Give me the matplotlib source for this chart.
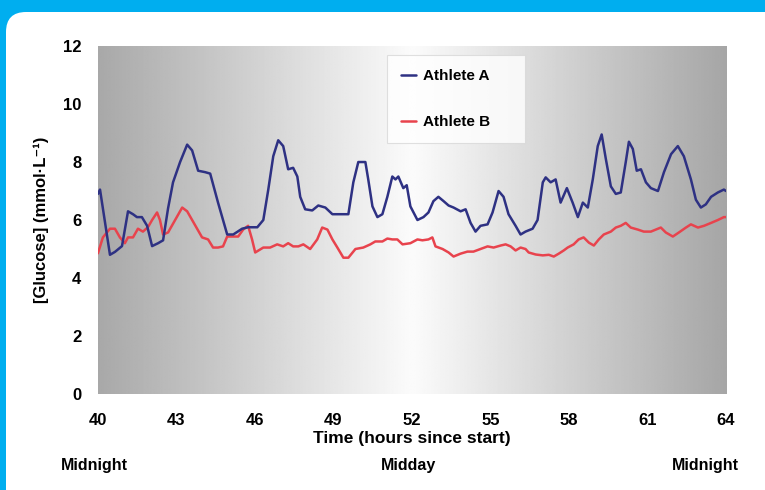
import numpy as np
import matplotlib
matplotlib.use('Agg')
import matplotlib.pyplot as plt
from matplotlib.patches import FancyBboxPatch

plt.rcParams['font.family'] = ['Liberation Sans', 'DejaVu Sans']
plt.rcParams['font.weight'] = 'bold'

# values
hours_a = [40.0, 40.08, 40.46, 40.65, 40.92, 41.15, 41.34, 41.49, 41.68, 41.88,
           42.07, 42.30, 42.49, 42.68, 42.87, 43.14, 43.41, 43.60, 43.83, 44.10,
           44.29, 44.59, 44.94, 45.17, 45.51, 45.74, 46.09, 46.32, 46.51, 46.70,
           46.89, 47.08, 47.27, 47.46, 47.62, 47.73, 47.92, 48.19, 48.42, 48.69,
           48.96, 49.19, 49.57, 49.76, 49.95, 50.22, 50.33, 50.49, 50.68, 50.87,
           51.06, 51.25, 51.37, 51.48, 51.67, 51.80, 51.94, 52.21, 52.44, 52.63,
           52.82, 53.01, 53.21, 53.40, 53.59, 53.86, 54.05, 54.24, 54.43, 54.62,
           54.89, 55.08, 55.31, 55.50, 55.69, 55.96, 56.15, 56.34, 56.61, 56.80,
           57.00, 57.11, 57.30, 57.49, 57.68, 57.92, 58.14, 58.34, 58.53, 58.72,
           58.91, 59.10, 59.25, 59.41, 59.60, 59.79, 59.98, 60.17, 60.29, 60.44,
           60.59, 60.75, 60.94, 61.13, 61.40, 61.63, 61.90, 62.16, 62.39, 62.66,
           62.85, 63.04, 63.23, 63.43, 63.69, 63.92, 64.0]
glucose_a = [6.9, 7.05, 4.8, 4.9, 5.1, 6.3, 6.2, 6.1, 6.1, 5.8,
             5.1, 5.2, 5.3, 6.4, 7.3, 8.0, 8.6, 8.4, 7.7, 7.65,
             7.6, 6.6, 5.5, 5.5, 5.7, 5.75, 5.75, 6.0, 7.05, 8.2,
             8.75, 8.55, 7.75, 7.8, 7.5, 6.8, 6.37, 6.33, 6.5, 6.43,
             6.2, 6.2, 6.2, 7.3, 8.0, 8.0, 7.4, 6.47, 6.1, 6.2,
             6.8, 7.5, 7.4, 7.5, 7.1, 7.2, 6.47, 6.0, 6.1, 6.26,
             6.65, 6.8, 6.65, 6.5, 6.43, 6.3, 6.37, 5.9, 5.6, 5.8,
             5.85, 6.26, 7.0, 6.8, 6.2, 5.8, 5.5, 5.6, 5.7, 6.0,
             7.3, 7.47, 7.3, 7.4, 6.6, 7.1, 6.6, 6.1, 6.6, 6.43,
             7.4, 8.55, 8.95, 8.1, 7.16, 6.9, 6.95, 8.0, 8.7, 8.45,
             7.7, 7.75, 7.3, 7.1, 7.0, 7.65, 8.27, 8.55, 8.2, 7.4,
             6.7, 6.43, 6.54, 6.8, 6.95, 7.05, 7.0]

hours_b = [40.0, 40.19, 40.46, 40.65, 40.84, 41.03, 41.15, 41.34, 41.53, 41.72,
           41.91, 42.07, 42.26, 42.37, 42.49, 42.68, 42.95, 43.22, 43.41, 43.60,
           43.79, 43.98, 44.21, 44.40, 44.59, 44.78, 44.94, 45.13, 45.36, 45.55,
           45.74, 45.89, 46.01, 46.32, 46.58, 46.85, 47.08, 47.27, 47.46, 47.66,
           47.85, 48.11, 48.38, 48.57, 48.77, 48.96, 49.15, 49.38, 49.57, 49.84,
           50.14, 50.41, 50.60, 50.87, 51.06, 51.25, 51.44, 51.64, 51.94, 52.21,
           52.40, 52.63, 52.78, 52.90, 53.17, 53.40, 53.59, 53.86, 54.12, 54.35,
           54.62, 54.89, 55.12, 55.39, 55.58, 55.77, 55.96, 56.15, 56.34, 56.46,
           56.73, 57.00, 57.23, 57.42, 57.61, 57.80, 57.95, 58.18, 58.37, 58.56,
           58.76, 58.95, 59.14, 59.33, 59.60, 59.79, 59.98, 60.17, 60.36, 60.63,
           60.86, 61.13, 61.32, 61.51, 61.70, 61.97, 62.20, 62.47, 62.66, 62.93,
           63.16, 63.43, 63.69, 63.92, 64.0]
glucose_b = [4.85, 5.4, 5.7, 5.7, 5.4, 5.2, 5.4, 5.4, 5.7, 5.6,
             5.75, 6.0, 6.26, 6.0, 5.5, 5.57, 6.0, 6.43, 6.3, 6.0,
             5.7, 5.4, 5.33, 5.05, 5.05, 5.09, 5.43, 5.43, 5.43, 5.67,
             5.8, 5.33, 4.88, 5.05, 5.05, 5.16, 5.09, 5.2, 5.09, 5.09,
             5.16, 5.0, 5.33, 5.74, 5.67, 5.33, 5.05, 4.7, 4.7, 5.0,
             5.05, 5.16, 5.26, 5.26, 5.36, 5.33, 5.33, 5.16, 5.2, 5.33,
             5.3, 5.33, 5.4, 5.09, 5.0, 4.88, 4.74, 4.84, 4.91, 4.91,
             5.0, 5.09, 5.05, 5.12, 5.16, 5.09, 4.95, 5.05, 5.0, 4.88,
             4.81, 4.78, 4.8, 4.74, 4.84, 4.95, 5.05, 5.16, 5.33, 5.4,
             5.22, 5.12, 5.33, 5.5, 5.6, 5.74, 5.8, 5.9, 5.74, 5.67,
             5.6, 5.6, 5.67, 5.74, 5.57, 5.43, 5.57, 5.74, 5.85, 5.74,
             5.8, 5.9, 6.0, 6.1, 6.1]

x_ticks = [40, 43, 46, 49, 52, 55, 58, 61, 64]
y_ticks = [0, 2, 4, 6, 8, 10, 12]
day_labels = ['Midnight', 'Midday', 'Midnight']
day_label_x = [39.85, 51.85, 63.2]

fig = plt.figure(figsize=(7.65, 4.9), dpi=100, facecolor='#00aeef')
panel = FancyBboxPatch((0.06, -0.5), 8.0, 5.28,
                       boxstyle='round,pad=0,rounding_size=0.2',
                       transform=fig.dpi_scale_trans, facecolor='white',
                       edgecolor='none', zorder=-1)
fig.patches.append(panel)

ax = fig.add_axes([0.128, 0.196, 0.821, 0.71])

# grey-white-grey background gradient
gx = np.linspace(40, 64, 400)
shade = np.interp(gx, [40, 52, 64], [0.66, 0.985, 0.65])
ax.imshow(np.tile(shade, (2, 1)), extent=[40, 64, 0, 12], aspect='auto',
          cmap='gray', vmin=0, vmax=1, zorder=0, interpolation='bilinear')

ax.plot(hours_a, glucose_a, color='#2e3183', lw=1.8, label='Athlete A', zorder=3,
        solid_joinstyle='round', solid_capstyle='round')
ax.plot(hours_b, glucose_b, color='#e8434d', lw=1.8, label='Athlete B', zorder=2,
        solid_joinstyle='round', solid_capstyle='round')

ax.set_xlim(40, 64)
ax.set_ylim(0, 12)
ax.set_xticks(x_ticks)
ax.set_yticks(y_ticks)
ax.tick_params(length=0, labelsize=12)
ax.tick_params(axis='x', pad=14)
ax.tick_params(axis='y', pad=12)
for s in ax.spines.values():
    s.set_visible(False)

ax.set_xlabel('Time (hours since start)', fontsize=12.5, fontweight='bold', labelpad=2)
ax.set_ylabel('[Glucose] (mmol·L⁻¹)', fontsize=12, fontweight='bold', labelpad=10)

for lab, xx in zip(day_labels, day_label_x):
    ax.text(xx, -0.207, lab, transform=ax.get_xaxis_transform(), ha='center',
            va='center', fontsize=11.5, fontweight='bold')

leg = ax.legend(loc='upper left', bbox_to_anchor=(0.46, 0.973, 0.22, 0.0),
                mode='expand', fontsize=11, frameon=True, fancybox=False,
                handlelength=1.0, handletextpad=0.45, labelspacing=2.1,
                borderpad=0.9, borderaxespad=0)
leg.get_frame().set_edgecolor('#d8d8d8')
leg.get_frame().set_linewidth(0.8)

fig.savefig('out.png', dpi=100, facecolor=fig.get_facecolor())
